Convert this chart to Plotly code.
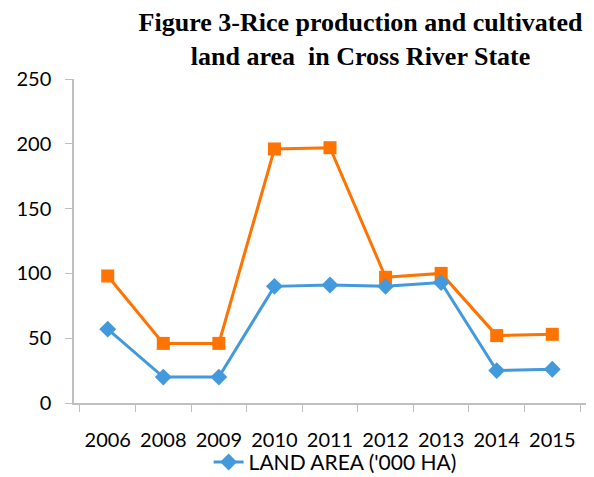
import plotly.graph_objects as go

years = ["2006", "2008", "2009", "2010", "2011", "2012", "2013", "2014", "2015"]
land_area = [57, 20, 20, 90, 91, 90, 93, 25, 26]
rice_production = [98, 46, 46, 196, 197, 97, 100, 52, 53]
y_ticks = [0, 50, 100, 150, 200, 250]

BLUE = "#4299DB"
ORANGE = "#FF7300"

fig = go.Figure()
fig.add_trace(go.Scatter(
    x=years, y=rice_production, mode="lines+markers",
    name="RICE PRODUCTION ('000 TONNES)", showlegend=False,
    line=dict(color=ORANGE, width=3),
    marker=dict(symbol="square", size=13, color=ORANGE),
))
fig.add_trace(go.Scatter(
    x=years, y=land_area, mode="lines+markers",
    name="LAND AREA ('000 HA)",
    line=dict(color=BLUE, width=3),
    marker=dict(symbol="diamond", size=13, color=BLUE),
))

fig.update_layout(
    width=594, height=477,
    margin=dict(l=74, r=8, t=79, b=74, autoexpand=False),
    plot_bgcolor="white", paper_bgcolor="white",
    font=dict(family="Lato, Open Sans, sans-serif", size=20, color="#000000"),
    title=dict(
        text="Figure 3-Rice production and cultivated<br>land area  in Cross River State",
        font=dict(family="Liberation Serif, serif", size=26, color="#000000", weight="bold"),
        x=0.607, xanchor="center", y=0.935, yanchor="top",
    ),
    showlegend=True,
    legend=dict(
        orientation="h", x=0.51, xanchor="center", y=-0.183, yanchor="middle",
        font=dict(size=21), bgcolor="rgba(0,0,0,0)",
        borderwidth=0, tracegroupgap=0,
    ),
)
fig.update_xaxes(
    type="category", showline=True, linecolor="#BFBFBF", linewidth=1.5,
    ticks="outside", tickson="boundaries", ticklen=7, tickcolor="#BFBFBF",
    showgrid=False, ticklabelstandoff=18, tickangle=0, automargin=False,
)
fig.update_yaxes(
    range=[0, 250], tickvals=y_ticks, showline=True, linecolor="#BFBFBF",
    linewidth=1.5, ticks="outside", ticklen=7, tickcolor="#BFBFBF",
    showgrid=False, zeroline=False, ticklabelstandoff=10, automargin=False,
)

fig.write_html("out.html")
